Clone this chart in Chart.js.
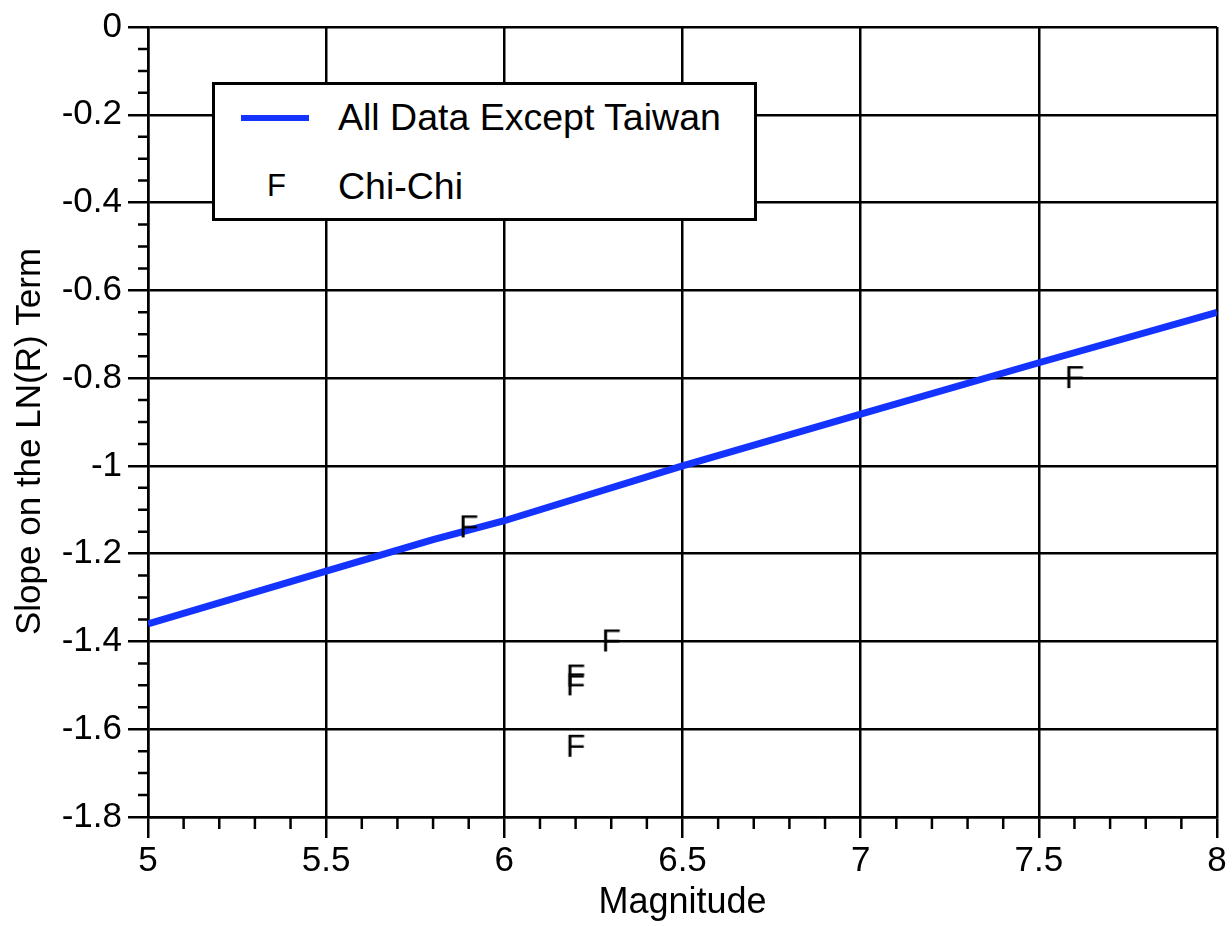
<!DOCTYPE html>
<html>
<head>
<meta charset="utf-8">
<script src="https://cdn.jsdelivr.net/npm/chart.js@4"></script>
<style>
  html, body { margin: 0; padding: 0; background: #fff; }
  #wrap { position: relative; width: 1232px; height: 926px; }
  #legend {
    position: absolute; left: 212px; top: 82px; width: 539px; height: 133px;
    border: 3px solid #000; background: #fff;
    font-family: "Liberation Sans", Arial, sans-serif; color: #000;
  }
  #legend .sw { position: absolute; left: 26px; top: 30px; width: 68px; height: 6px; background: #1533ff; }
  #legend .t1 { position: absolute; left: 123px; top: 12px; font-size: 37.5px; line-height: 40px; white-space: nowrap; }
  #legend .f  { position: absolute; left: 52px; top: 85px; font-size: 31px; line-height: 32px; }
  #legend .t2 { position: absolute; left: 123px; top: 81px; font-size: 37.5px; line-height: 40px; white-space: nowrap; }
</style>
</head>
<body>
<div id="wrap">
  <canvas id="c" width="1232" height="926"></canvas>
  <div id="legend">
    <div class="sw"></div><div class="t1">All Data Except Taiwan</div>
    <div class="f">F</div><div class="t2">Chi-Chi</div>
  </div>
</div>
<script>
// ---- data ----
const lineMagnitude = [5, 5.5, 5.8, 6, 6.5, 7, 7.5, 8];
const lineSlope     = [-1.36, -1.24, -1.168, -1.125, -1.0, -0.882, -0.765, -0.65];
const chiChiMagnitude = [7.6, 5.9, 6.3, 6.2, 6.2, 6.2];
const chiChiSlope     = [-0.80, -1.14, -1.40, -1.48, -1.50, -1.64];
const xTickValues = [5, 5.5, 6, 6.5, 7, 7.5, 8];
const yTickValues = [0, -0.2, -0.4, -0.6, -0.8, -1, -1.2, -1.4, -1.6, -1.8];

const FONT = '"Liberation Sans", Arial, sans-serif';

// "F" marker as point style
function makeF() {
  const cv = document.createElement('canvas');
  cv.width = 24; cv.height = 30;
  const g = cv.getContext('2d');
  g.fillStyle = '#000';
  g.font = '32px ' + FONT;
  g.textAlign = 'center';
  g.textBaseline = 'middle';
  g.fillText('F', 12, 16);
  return cv;
}
const fMarker = makeF();

const lineData = lineMagnitude.map((x, i) => ({ x, y: lineSlope[i] }));
const chiData = chiChiMagnitude.map((x, i) => ({ x, y: chiChiSlope[i] }));

const minorTicks = {
  id: 'minorTicks',
  afterDraw(chart) {
    const { ctx, chartArea, scales } = chart;
    const xs = scales.x, ys = scales.y;
    ctx.save();
    ctx.strokeStyle = '#000';
    ctx.lineWidth = 2.5;
    ctx.beginPath();
    for (let k = -36; k <= 0; k++) {
      if (k % 4 === 0) continue;
      const py = ys.getPixelForValue(k * 0.05);
      ctx.moveTo(chartArea.left - 10, py);
      ctx.lineTo(chartArea.left, py);
    }
    for (let k = 50; k <= 80; k++) {
      if (k % 5 === 0) continue;
      const px = xs.getPixelForValue(k * 0.1);
      ctx.moveTo(px, chartArea.bottom);
      ctx.lineTo(px, chartArea.bottom + 12);
    }
    ctx.stroke();
    ctx.restore();
  }
};

new Chart(document.getElementById('c'), {
  type: 'scatter',
  data: {
    datasets: [
      {
        label: 'All Data Except Taiwan',
        data: lineData,
        showLine: true,
        borderColor: '#1533ff',
        backgroundColor: '#1533ff',
        borderWidth: 7,
        pointRadius: 0,
        tension: 0,
        order: 2
      },
      {
        label: 'Chi-Chi',
        data: chiData,
        showLine: false,
        pointStyle: fMarker,
        pointRadius: 12,
        order: 1
      }
    ]
  },
  options: {
    responsive: false,
    animation: false,
    devicePixelRatio: 1,
    layout: { padding: { left: 0, top: 27, right: 15, bottom: 0 } },
    plugins: { legend: { display: false }, tooltip: { enabled: false } },
    scales: {
      x: {
        type: 'linear', min: 5, max: 8,
        afterBuildTicks(s) { s.ticks = xTickValues.map(v => ({ value: v })); },
        afterFit(s) { s.height = 109; },
        border: { display: true, color: '#000', width: 2.5 },
        grid: { color: '#000', lineWidth: 2.5, tickLength: 21, drawTicks: true },
        ticks: {
          color: '#000', font: { family: FONT, size: 35 }, padding: 2,
          maxRotation: 0,
          callback: v => String(Math.round(v * 10) / 10)
        },
        title: {
          display: true, text: 'Magnitude', color: '#000',
          font: { family: FONT, size: 36 }, padding: { top: 0, bottom: 1 }
        }
      },
      y: {
        type: 'linear', min: -1.8, max: 0,
        afterBuildTicks(s) { s.ticks = yTickValues.slice().reverse().map(v => ({ value: v })); },
        afterFit(s) { s.width = 148; },
        border: { display: true, color: '#000', width: 2.5 },
        grid: { color: '#000', lineWidth: 2.5, tickLength: 20, drawTicks: true },
        ticks: {
          color: '#000', font: { family: FONT, size: 35 }, padding: 6,
          callback: v => String(Math.round(v * 10) / 10)
        },
        title: {
          display: true, text: 'Slope on the LN(R) Term    ', color: '#000',
          font: { family: FONT, size: 35 }, padding: { top: 9, bottom: 0 }
        }
      }
    }
  },
  plugins: [minorTicks]
});
</script>
</body>
</html>
